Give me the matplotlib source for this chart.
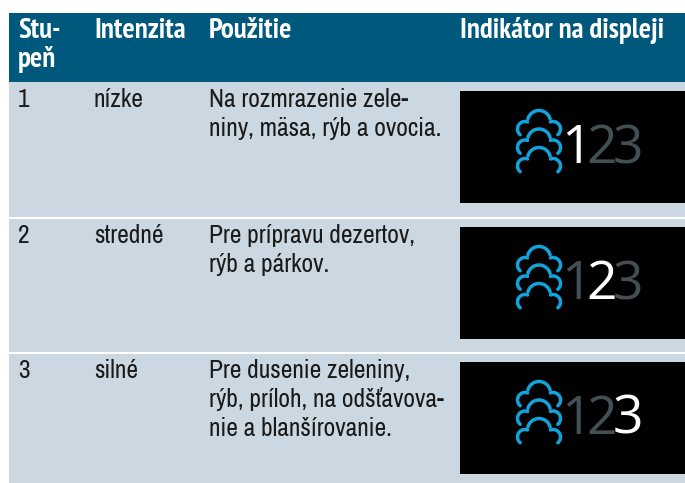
import numpy as np
import matplotlib
matplotlib.use("Agg")
import matplotlib.pyplot as plt
from matplotlib.patches import Rectangle

# table content
headers = ["Stu-\npeň", "Intenzita", "Použitie", "Indikátor na displeji"]
stupen = ["1", "2", "3"]
intenzita = ["nízke", "stredné", "silné"]
pouzitie = [
    "Na rozmrazenie zele-\nniny, mäsa, rýb a ovocia.",
    "Pre prípravu dezertov,\nrýb a párkov.",
    "Pre dusenie zeleniny,\nrýb, príloh, na odšťavova-\nnie a blanšírovanie.",
]
digits = ["1", "2", "3"]

HEADER_BG = "#00587c"
ROW_BG = "#cbd8e2"
CLOUD = "#12a3dc"
DIM = "#434f53"
INK = "#1a1a1a"

W, H = 685, 483
row_tops = [82, 219, 354]
row_bottoms = [217, 352, 483]
panel_tops = [91, 227, 362]
col_x = [18, 94, 209, 460]
LINE = 29

plt.rcParams["font.family"] = ["Archivo Narrow", "Liberation Sans", "DejaVu Sans"]

fig = plt.figure(figsize=(W / 100, H / 100), dpi=100)
ax = fig.add_axes([0, 0, 1, 1])
ax.set_xlim(0, W)
ax.set_ylim(H, 0)
ax.axis("off")


def cloud(cx, cy):
    # one cloud outline, three arcs; angles are in screen sense (y down)
    for dx, dy, r, a0, a1 in [(0, 0, 11.5, 195, 345), (-14, 7, 7.5, 130, 290), (14, 7, 7.5, 250, 410)]:
        t = np.radians(np.linspace(a0, a1, 40))
        ax.plot(cx + dx + r * np.cos(t), cy + dy + r * np.sin(t), color=CLOUD, lw=2.5,
                solid_capstyle="round")


def lines(x, y, text, **kw):
    # baseline of each line placed one by one, the leading is wider than the font's
    for j, line in enumerate(text.split("\n")):
        ax.text(x, y + LINE * j, line, va="baseline", **kw)


ax.add_patch(Rectangle((9, 13), W - 9, 69, color=HEADER_BG, lw=0))
for x, label in zip(col_x, headers):
    lines(x, 38, label, color="white", fontsize=20.8, fontweight="bold",
          family=["PT Sans Narrow", "Liberation Sans", "DejaVu Sans"])

for i in range(3):
    ax.add_patch(Rectangle((9, row_tops[i]), W - 9, row_bottoms[i] - row_tops[i], color=ROW_BG, lw=0))
    y = panel_tops[i] + 16
    lines(col_x[0], y, stupen[i], color=INK, fontsize=18.3)
    lines(col_x[1], y, intenzita[i], color=INK, fontsize=18.3)
    lines(col_x[2], y, pouzitie[i], color=INK, fontsize=18.3)

    top = panel_tops[i]
    ax.add_patch(Rectangle((460, top), W - 460, 112, color="black", lw=0))
    for k in range(3):
        cloud(539, top + 31 + 18.5 * k)
    for k, d in enumerate(digits):
        ax.text(576 + 26 * k, top + 72, d, color="white" if k == i else DIM,
                fontsize=38.5, ha="center", va="baseline", family=["Open Sans", "DejaVu Sans"])

fig.savefig("out.png", dpi=100)
